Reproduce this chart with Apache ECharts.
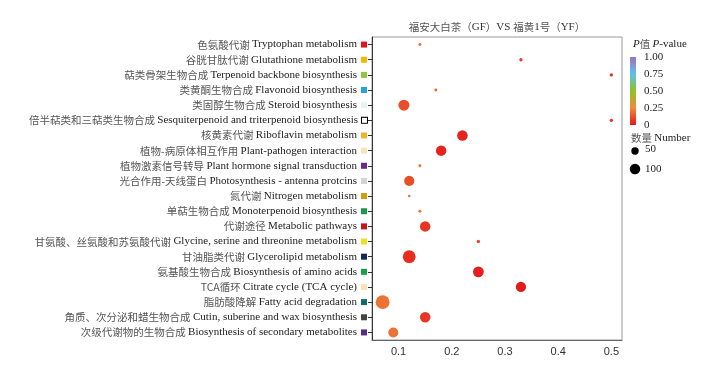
<!DOCTYPE html>
<html>
<head>
<meta charset="utf-8">
<script src="https://cdn.jsdelivr.net/npm/echarts@6/dist/echarts.min.js"></script>
<style>
html,body{margin:0;padding:0;background:#fff;}
#chart{width:712px;height:368px;}
</style>
</head>
<body>
<div id="chart"></div>
<script>
const categories = [
  '色氨酸代谢 Tryptophan metabolism',
  '谷胱甘肽代谢 Glutathione metabolism',
  '萜类骨架生物合成 Terpenoid backbone biosynthesis',
  '类黄酮生物合成 Flavonoid biosynthesis',
  '类固醇生物合成 Steroid biosynthesis',
  '倍半萜类和三萜类生物合成 Sesquiterpenoid and triterpenoid biosynthesis',
  '核黄素代谢 Riboflavin metabolism',
  '植物-病原体相互作用 Plant-pathogen interaction',
  '植物激素信号转导 Plant hormone signal transduction',
  '光合作用-天线蛋白 Photosynthesis - antenna protcins',
  '氮代谢 Nitrogen metabolism',
  '单萜生物合成 Monoterpenoid biosynthesis',
  '代谢途径 Metabolic pathways',
  '甘氨酸、丝氨酸和苏氨酸代谢 Glycine, serine and threonine metabolism',
  '甘油脂类代谢 Glycerolipid metabolism',
  '氨基酸生物合成 Biosynthesis of amino acids',
  'TCA循环 Citrate cycle (TCA cycle)',
  '脂肪酸降解 Fatty acid degradation',
  '角质、次分泌和蜡生物合成 Cutin, suberine and wax biosynthesis',
  '次级代谢物的生物合成 Biosynthesis of secondary metabolites'
];
const xValues = [0.14, 0.33, 0.50, 0.17, 0.11, 0.50, 0.22, 0.18, 0.14, 0.12,
                 0.12, 0.14, 0.15, 0.25, 0.12, 0.25, 0.33, 0.07, 0.15, 0.09];
const pValues = [0.20, 0.08, 0.06, 0.18, 0.12, 0.06, 0.03, 0.03, 0.20, 0.12,
                 0.20, 0.20, 0.07, 0.10, 0.05, 0.02, 0.01, 0.20, 0.07, 0.20];
const counts  = [8, 10, 10, 8, 110, 10, 100, 100, 8, 95,
                 6, 8, 100, 10, 150, 105, 95, 175, 100, 90];
const squareColors = ['#e8141c','#f5b800','#8dc63f','#29a3dc','#e6f2f4','#ffffff','#f0b42a','#f8e4b4','#6a2a8c','#d4d4d4',
                      '#d49b0a','#1a9a48','#c0181e','#f0e020','#102a5c','#1aa04a','#f8e4b4','#106a6a','#444444','#5a2a8a'];
const xTicks = [0.1, 0.2, 0.3, 0.4, 0.5];
const pTicks = [0, 0.25, 0.5, 0.75, 1.0];
const pTickLabels = ['0', '0.25', '0.50', '0.75', '1.00'];
const sizeTicks = [50, 100];
const scaleColors = ['#e3161a', '#f08a3a', '#8cc420', '#5cc3e8', '#a070c0'];

const serif = '"Liberation Serif", "Times New Roman", serif';
const cjk = '"Noto Sans CJK SC", "Liberation Serif", serif';
const sizeFn = n => Math.sqrt(n) * 1.05;

const rich = {
  c: { fontSize: 10.5, fontFamily: cjk, color: '#555' },
  t: { fontSize: 11, fontFamily: serif, color: '#222' },
  g: { width: 4 }
};
squareColors.forEach((c, i) => {
  const white = c === '#ffffff';
  rich['s' + i] = { width: white ? 5 : 6, height: white ? 5 : 6, backgroundColor: c,
    borderColor: white ? '#000' : c, borderWidth: white ? 1 : 0 };
});

const seriesData = categories.map((c, i) => [xValues[i], c, pValues[i], counts[i]]);

const barX = 630, barTop = 57, barH = 68, barW = 6;
const graphics = [];
graphics.push({ type: 'text', x: 497, y: 27,
  style: { rich: { c: { fontSize: 10.5, fontFamily: cjk, fill: '#555' }, t: { fontSize: 11, fontFamily: serif, fill: '#333' } },
           text: '{c|福安大白茶（}{t|GF}{c|）}{t|VS }{c|福黄}{t|1}{c|号（}{t|YF}{c|）}', textAlign: 'center', textVerticalAlign: 'middle' } });
graphics.push({ type: 'text', x: 633, y: 44,
  style: { rich: { i: { fontStyle: 'italic', fontSize: 11, fontFamily: serif, fill: '#222' },
                   c: { fontSize: 10.5, fontFamily: cjk, fill: '#555' },
                   n: { fontSize: 11, fontFamily: serif, fill: '#222' } },
           text: '{i|P}{c|值 }{i|P}{n|-value}', textVerticalAlign: 'middle' } });
graphics.push({ type: 'rect', shape: { x: barX, y: barTop, width: barW, height: barH },
  style: { fill: { type: 'linear', x: 0, y: 1, x2: 0, y2: 0, global: false,
    colorStops: scaleColors.map((c, i) => ({ offset: i / (scaleColors.length - 1), color: c })) } } });
pTicks.forEach((t, i) => {
  graphics.push({ type: 'text', x: barX + barW + 8, y: barTop + barH - t * barH,
    style: { text: pTickLabels[i], fill: '#222', font: '11px ' + serif, textVerticalAlign: 'middle' } });
});
graphics.push({ type: 'text', x: 631, y: 138,
  style: { rich: { c: { fontSize: 10.5, fontFamily: cjk, fill: '#555' }, n: { fontSize: 11, fontFamily: serif, fill: '#222' } },
           text: '{c|数量 }{n|Number}', textVerticalAlign: 'middle' } });
sizeTicks.forEach((n, i) => {
  const cy = 151 + i * 18;
  graphics.push({ type: 'circle', shape: { cx: 635, cy: cy, r: sizeFn(n) / 2 }, style: { fill: '#000' } });
  graphics.push({ type: 'text', x: 645, y: cy - 2 + i * 2,
    style: { text: String(n), fill: '#222', font: '11px ' + serif, textVerticalAlign: 'middle' } });
});

const chart = echarts.init(document.getElementById('chart'));
chart.setOption({
  backgroundColor: '#fff',
  animation: false,
  grid: { left: 372, right: 90, top: 37, bottom: 28, show: true, borderColor: '#999', borderWidth: 1 },
  xAxis: {
    type: 'value', min: 0.05, max: 0.52,
    axisLine: { show: true, lineStyle: { color: '#666' } },
    axisTick: { show: false },
    splitLine: { show: false },
    axisLabel: { customValues: xTicks, color: '#333', fontSize: 11, fontFamily: '"Liberation Sans", Arial, sans-serif', margin: 6,
                 formatter: v => v.toFixed(1) }
  },
  yAxis: {
    type: 'category', data: categories, inverse: true,
    axisLine: { show: true, lineStyle: { color: '#333' } },
    axisTick: { show: true, alignWithLabel: true, length: 4, lineStyle: { color: '#333' } },
    splitLine: { show: false },
    axisLabel: { margin: 5, interval: 0,
      formatter: (v, i) => {
        const k = v.indexOf(' ');
        return '{c|' + v.slice(0, k + 1) + '}{t|' + v.slice(k + 1) + '}{g|}{s' + i + '|}';
      }, rich: rich }
  },
  visualMap: { show: false, type: 'continuous', dimension: 2, min: 0, max: 1, seriesIndex: 0,
    inRange: { color: scaleColors } },
  series: [{
    type: 'scatter',
    data: seriesData,
    encode: { x: 0, y: 1 },
    itemStyle: { opacity: 1 },
    symbolSize: d => sizeFn(d[3])
  }],
  graphic: graphics
});
</script>
</body>
</html>
